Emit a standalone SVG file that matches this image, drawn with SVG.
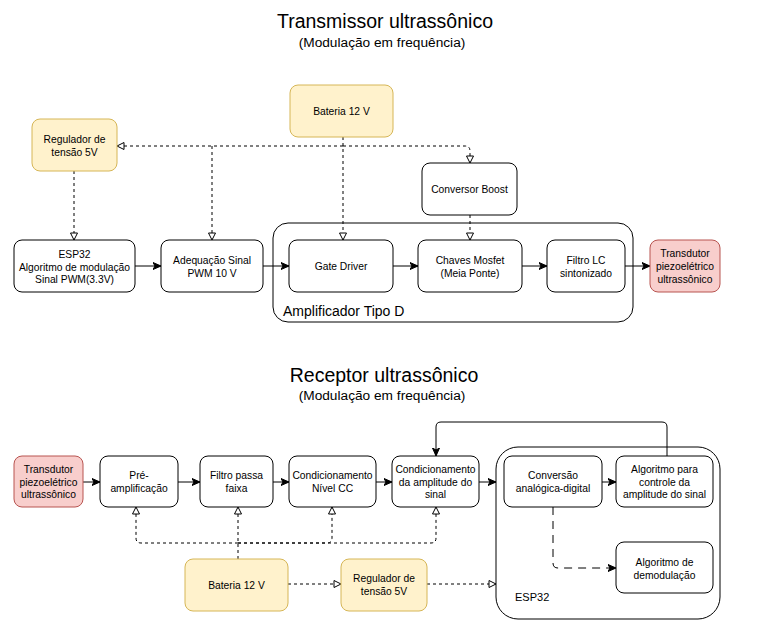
<svg xmlns="http://www.w3.org/2000/svg" width="762" height="633" viewBox="0 0 762 633">
<style>
text{font-family:"Liberation Sans",Arial,sans-serif;fill:#000}
.t{font-size:10.3px;text-anchor:middle}
.title{font-size:19.5px;text-anchor:middle}
.sub{font-size:13.7px;text-anchor:middle}
.box{fill:#fff;stroke:#000;stroke-width:1}
.yel{fill:#fff2cc;stroke:#d6b656;stroke-width:1}
.red{fill:#f8cecc;stroke:#b85450;stroke-width:1}
.cont{fill:none;stroke:#000;stroke-width:1}
.solid{fill:none;stroke:#000;stroke-width:1;marker-end:url(#fa)}
.dash{fill:none;stroke:#000;stroke-width:1;stroke-dasharray:3 3;marker-end:url(#oa)}
.ldash{fill:none;stroke:#000;stroke-width:1;stroke-dasharray:8 6;marker-end:url(#fa)}
</style>
<defs>
<marker id="fa" markerUnits="userSpaceOnUse" markerWidth="10" markerHeight="10" refX="8" refY="4" orient="auto">
<path d="M0,0.5 L8,4 L0,7.5 L2,4 z" fill="#000" stroke="#000" stroke-width="1"/>
</marker>
<marker id="oa" markerUnits="userSpaceOnUse" markerWidth="10" markerHeight="10" refX="8" refY="4" orient="auto">
<path d="M1,0.5 L8,4 L1,7.5 z" fill="#fff" stroke="#000" stroke-width="1"/>
</marker>
</defs>

<text class="title" x="385" y="28">Transmissor ultrassônico</text>
<text class="sub" x="382" y="47">(Modulação em frequência)</text>
<text class="title" x="384" y="382">Receptor ultrassônico</text>
<text class="sub" x="382" y="400">(Modulação em frequência)</text>

<g id="amplificador">
<rect class="cont" x="273" y="223" width="360" height="99" rx="15"/>
<text x="283" y="316" style="font-size:14px">Amplificador Tipo D</text>
</g>
<g id="esp32-rx">
<rect class="cont" x="496" y="447" width="224" height="172" rx="22"/>
<text x="515" y="601" style="font-size:11px">ESP32</text>
</g>

<g id="connectors">
<path class="dash" d="M343,137 L343,240"/>
<path class="dash" d="M343,146 L117,146"/>
<path class="dash" d="M212,146 L212,240"/>
<path class="dash" d="M343,146 L465,146 Q470,146 470,151 L470,163"/>
<path class="dash" d="M74,171 L74,240"/>
<path class="dash" d="M470,215 L470,240"/>
<path class="solid" d="M135,266 L161,266"/>
<path class="solid" d="M263,266 L289,266"/>
<path class="solid" d="M393,266 L418,266"/>
<path class="solid" d="M522,266 L547,266"/>
<path class="solid" d="M625,266 L650,266"/>

<path class="solid" d="M83,482 L100,482"/>
<path class="solid" d="M178,482 L200,482"/>
<path class="solid" d="M273,482 L289,482"/>
<path class="solid" d="M376,482 L392,482"/>
<path class="solid" d="M479,482 L496,482"/>
<path class="solid" d="M602,482 L616,482"/>
<path class="solid" d="M667,456 L667,427 Q667,422 662,422 L441,422 Q436,422 436,427 L436,456"/>
<path class="ldash" d="M553,507 L553,563 Q553,568 558,568 L616,568"/>
<path class="dash" d="M238,559 L238,507"/>
<path class="dash" d="M238,543 L141,543 Q136,543 136,538 L136,507"/>
<path class="dash" d="M238,543 L327,543 Q332,543 332,538 L332,507"/>
<path class="dash" d="M238,543 L431,543 Q436,543 436,538 L436,507"/>
<path class="dash" d="M288,584 L341,584"/>
<path class="dash" d="M427,584 L496,584"/>
</g>

<g id="bateria-tx">
<rect class="yel" x="290" y="85" width="103" height="52" rx="8"/>
<text class="t" x="341.5" y="115">Bateria 12 V</text>
</g>
<g id="regulador-tx">
<rect class="yel" x="32" y="119" width="85" height="52" rx="8"/>
<text class="t" x="74.5" y="143">Regulador de</text>
<text class="t" x="74.5" y="156">tensão 5V</text>
</g>
<g id="esp32-tx">
<rect class="box" x="14" y="240" width="121" height="52" rx="8"/>
<text class="t" x="74.5" y="258">ESP32</text>
<text class="t" x="74.5" y="270.5">Algoritmo de modulação</text>
<text class="t" x="74.5" y="283">Sinal PWM(3.3V)</text>
</g>
<g id="adequacao">
<rect class="box" x="161" y="240" width="102" height="52" rx="8"/>
<text class="t" x="212" y="264">Adequação Sinal</text>
<text class="t" x="212" y="277">PWM 10 V</text>
</g>
<g id="gate-driver">
<rect class="box" x="289" y="240" width="104" height="52" rx="8"/>
<text class="t" x="341" y="270">Gate Driver</text>
</g>
<g id="conversor-boost">
<rect class="box" x="422" y="163" width="95" height="52" rx="8"/>
<text class="t" x="469.5" y="193">Conversor Boost</text>
</g>
<g id="chaves-mosfet">
<rect class="box" x="418" y="240" width="104" height="52" rx="8"/>
<text class="t" x="470" y="264">Chaves Mosfet</text>
<text class="t" x="470" y="277">(Meia Ponte)</text>
</g>
<g id="filtro-lc">
<rect class="box" x="547" y="240" width="78" height="52" rx="8"/>
<text class="t" x="586" y="264">Filtro LC</text>
<text class="t" x="586" y="277">sintonizado</text>
</g>
<g id="transdutor-tx">
<rect class="red" x="650" y="240" width="70" height="52" rx="8"/>
<text class="t" x="685" y="257">Transdutor</text>
<text class="t" x="685" y="270">piezoelétrico</text>
<text class="t" x="685" y="283">ultrassônico</text>
</g>

<g id="transdutor-rx">
<rect class="red" x="14" y="456" width="69" height="51" rx="8"/>
<text class="t" x="48.5" y="473">Transdutor</text>
<text class="t" x="48.5" y="485.5">piezoelétrico</text>
<text class="t" x="48.5" y="498">ultrassônico</text>
</g>
<g id="pre-amplificacao">
<rect class="box" x="100" y="456" width="78" height="51" rx="8"/>
<text class="t" x="139" y="479">Pré-</text>
<text class="t" x="139" y="492">amplificação</text>
</g>
<g id="filtro-passa-faixa">
<rect class="box" x="200" y="456" width="73" height="51" rx="8"/>
<text class="t" x="236.5" y="479">Filtro passa</text>
<text class="t" x="236.5" y="492">faixa</text>
</g>
<g id="cond-nivel-cc">
<rect class="box" x="289" y="456" width="87" height="51" rx="8"/>
<text class="t" x="332.5" y="479">Condicionamento</text>
<text class="t" x="332.5" y="492">Nível CC</text>
</g>
<g id="cond-amplitude">
<rect class="box" x="392" y="456" width="87" height="51" rx="8"/>
<text class="t" x="435.5" y="473">Condicionamento</text>
<text class="t" x="435.5" y="485.5">da amplitude do</text>
<text class="t" x="435.5" y="498">sinal</text>
</g>
<g id="conversao-ad">
<rect class="box" x="504" y="456" width="98" height="51" rx="8"/>
<text class="t" x="553" y="479">Conversão</text>
<text class="t" x="553" y="492">analógica-digital</text>
</g>
<g id="alg-controle">
<rect class="box" x="616" y="456" width="97" height="51" rx="8"/>
<text class="t" x="664.5" y="473">Algoritmo para</text>
<text class="t" x="664.5" y="485.5">controle da</text>
<text class="t" x="664.5" y="498">amplitude do sinal</text>
</g>
<g id="alg-demodulacao">
<rect class="box" x="616" y="542" width="97" height="51" rx="8"/>
<text class="t" x="664.5" y="566">Algoritmo de</text>
<text class="t" x="664.5" y="579">demodulação</text>
</g>
<g id="bateria-rx">
<rect class="yel" x="185" y="559" width="103" height="52" rx="8"/>
<text class="t" x="236.5" y="589">Bateria 12 V</text>
</g>
<g id="regulador-rx">
<rect class="yel" x="341" y="559" width="86" height="52" rx="8"/>
<text class="t" x="384" y="582">Regulador de</text>
<text class="t" x="384" y="595">tensão 5V</text>
</g>
</svg>
